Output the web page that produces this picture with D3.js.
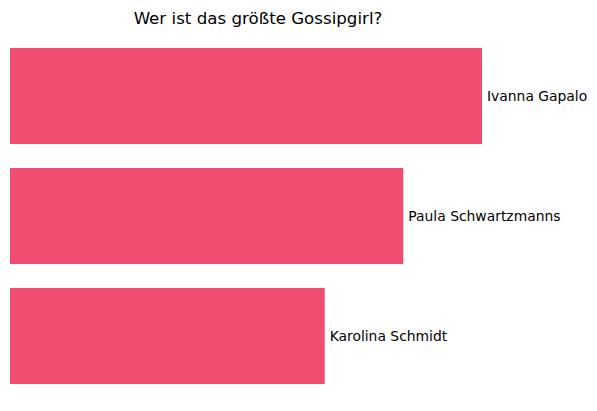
<!DOCTYPE html>
<html><head><meta charset="utf-8">
<script src="https://cdn.jsdelivr.net/npm/d3@7"></script>
<style>body{margin:0;background:#fff}</style>
</head><body>
<svg id="c" width="597" height="411"></svg>
<script>
const names = ["Ivanna Gapalo", "Paula Schwartzmanns", "Karolina Schmidt"];
const values = [6, 5, 4];
const title = "Wer ist das größte Gossipgirl?";

const svg = d3.select("#c");
const font = "DejaVu Sans, sans-serif";
const x = d3.scaleLinear().domain([0, 6]).range([10, 482]);
const y = d3.scaleBand().domain(names).range([36, 396]).paddingInner(0.2).paddingOuter(0.1);

svg.append("text").attr("x", 258).attr("y", 24).attr("text-anchor", "middle")
  .attr("font-family", font).attr("font-size", 16.67).attr("fill", "#000").text(title);

svg.selectAll("rect.bar").data(names).join("rect").attr("class", "bar")
  .attr("x", x(0)).attr("y", d => y(d))
  .attr("width", (d, i) => x(values[i]) - x(0))
  .attr("height", y.bandwidth()).attr("fill", "#EF4E71");

svg.selectAll("text.lbl").data(names).join("text").attr("class", "lbl")
  .attr("x", (d, i) => x(values[i]) + 5)
  .attr("y", d => y(d) + y.bandwidth() / 2)
  .attr("dy", "0.35em")
  .attr("font-family", font).attr("font-size", 13.89).attr("fill", "#000").text(d => d);
</script>
</body></html>
